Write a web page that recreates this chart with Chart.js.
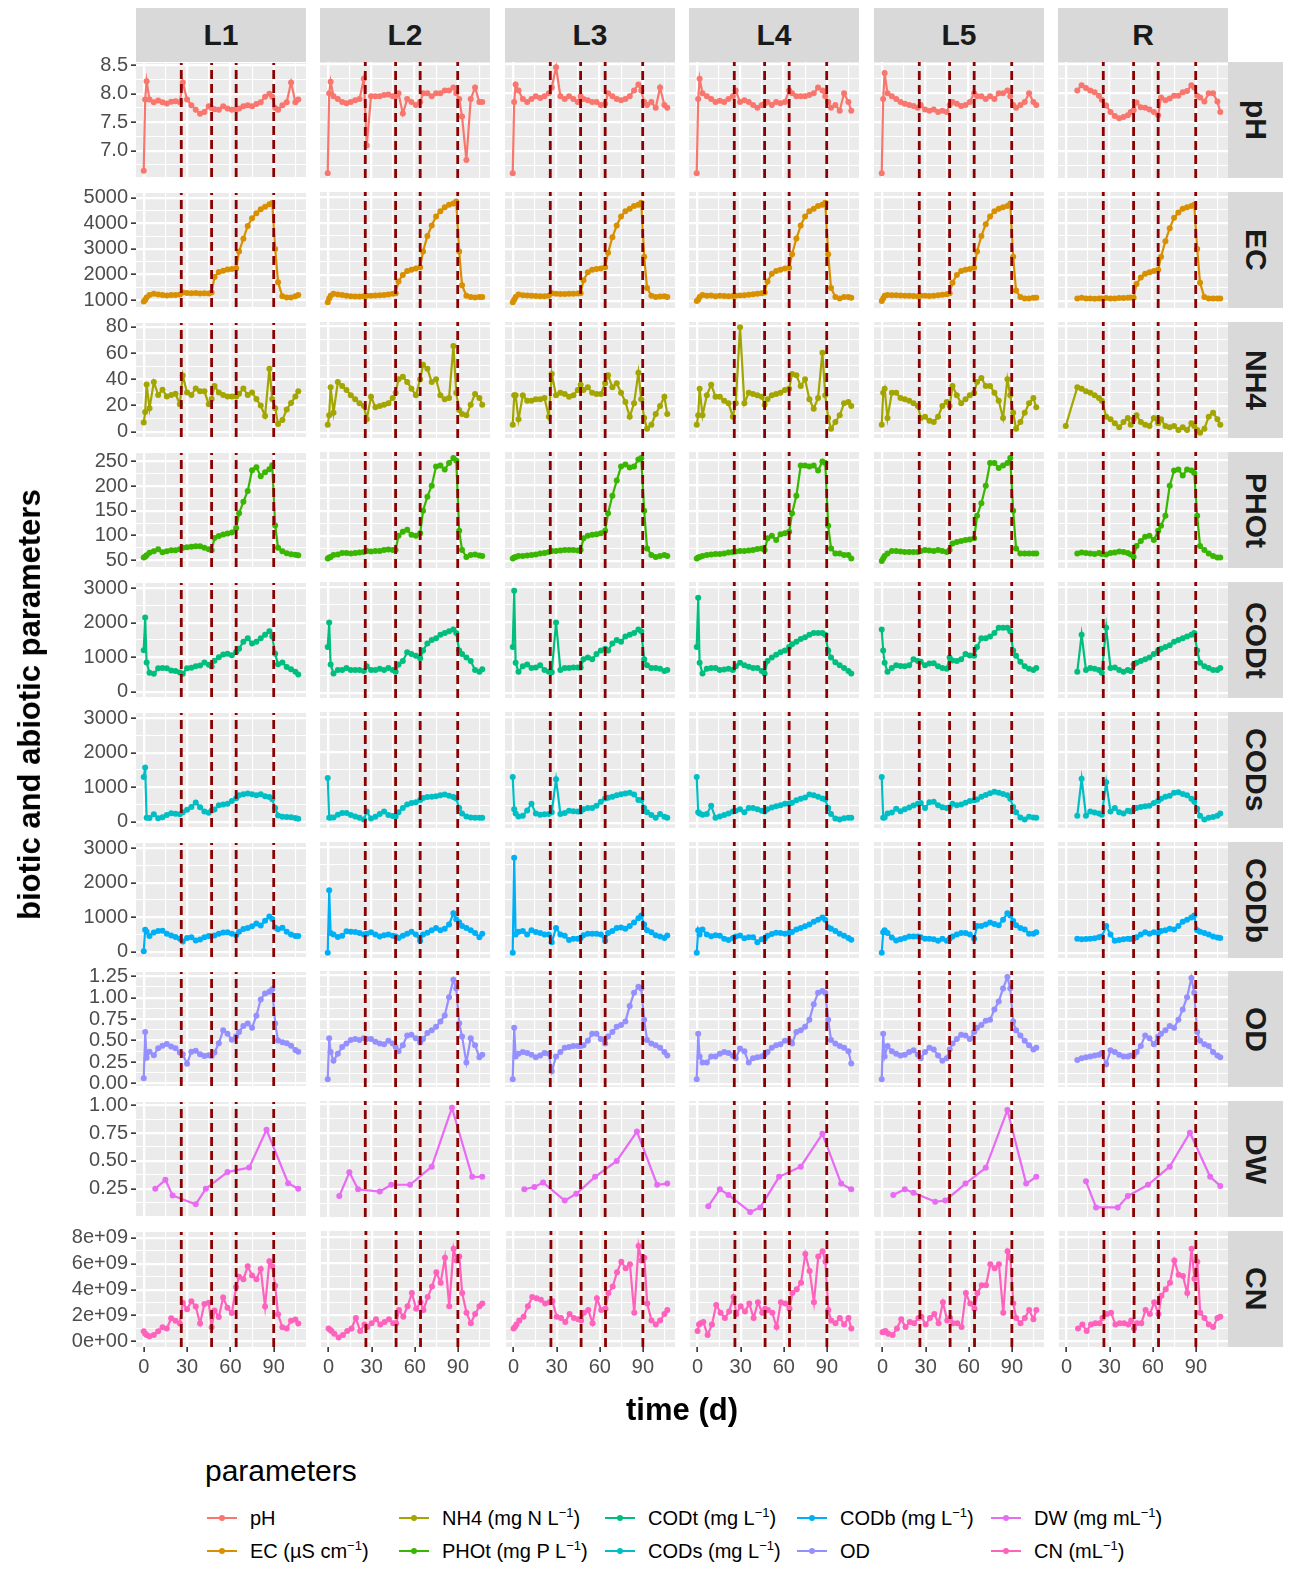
<!DOCTYPE html>
<html>
<head>
<meta charset="utf-8">
<title>biotic and abiotic parameters</title>
<script src="https://cdn.jsdelivr.net/npm/chart.js@4.4.1/dist/chart.umd.min.js"></script>
<style>
  body { margin: 0; width: 1294px; height: 1574px; position: relative; background: #fff; overflow: hidden;
         font-family: "Liberation Sans", Arial, sans-serif; }
  canvas { position: absolute; }
  .strip { position: absolute; background: #D9D9D9; color: #1A1A1A; font-weight: bold; font-size: 30px;
           display: flex; align-items: center; justify-content: center; }
  .strip.right span { writing-mode: vertical-rl; }
  .title { position: absolute; font-weight: bold; font-size: 31px; color: #000; white-space: nowrap; }
  .ytitle { writing-mode: vertical-rl; transform: rotate(180deg); }
  .ltitle { position: absolute; left: 205px; top: 1454px; font-size: 30px; color: #000; }
  .litem { position: absolute; height: 30px; font-size: 20px; color: #000; white-space: nowrap; line-height: 30px; }
  .litem sup { font-size: 13px; vertical-align: 8px; line-height: 0; }
  .key { position: absolute; top: 14px; width: 30px; height: 2px; }
  .dot { position: absolute; top: 12px; width: 6px; height: 6px; border-radius: 3px; }
</style>
</head>
<body>
<script>
// facets
const columns = ['L1', 'L2', 'L3', 'L4', 'L5', 'R'];
const params = ['pH', 'EC', 'NH4', 'PHOt', 'CODt', 'CODs', 'CODb', 'OD', 'DW', 'CN'];
const colors = ['#F8766D', '#D89000', '#A3A500', '#39B600', '#00BF7D', '#00BFC4', '#00B0F6', '#9590FF', '#E76BF3', '#FF62BC'];
const eventDays = [26, 47, 64, 90];
const xTicks = [0, 30, 60, 90];

// sampling days (L1..L5 share one grid, R starts later)
const days = [0, 1, 2, 4, 7, 10, 13, 16, 19, 22, 25, 27, 30, 33, 36, 39, 42, 45, 47, 49, 52, 55, 58, 61, 64,
              66, 69, 72, 75, 78, 81, 84, 87, 89, 91, 93, 96, 99, 102, 105, 107];
const daysR = [0, 8, 11, 14, 17, 20, 23, 25, 28, 31, 34, 37, 40, 43, 45, 47, 49, 52, 55, 58, 61, 64, 66, 69,
               72, 75, 78, 81, 84, 87, 89, 91, 93, 96, 99, 102, 105, 107];

// one array per column: L1, L2, L3, L4, L5, R
const pH = [
  [6.65,7.9,8.22,7.9,7.85, 7.88,7.85,7.83,7.86,7.87, 7.85,8.2,7.9,7.8,7.72, 7.65,7.68,7.78,7.75,7.73, 7.72,7.78,7.74,7.72,7.73, 7.74,7.78,7.8,7.78,7.82, 7.85,7.95,8.0,7.95,7.75, 7.72,7.8,7.85,8.2,7.85, 7.9],
  [6.62,8.0,8.2,7.95,7.9, 7.85,7.83,7.85,7.88,7.9, 8.25,7.1,7.95,7.95,7.95, 7.97,7.98,7.95,7.95,8.0, 7.65,7.9,7.85,7.8,7.85, 8.0,8.0,7.95,8.0,8.0, 8.05,8.05,8.1,8.0,7.9, 7.6,6.85,7.9,8.1,7.85, 7.85],
  [6.62,7.85,8.15,8.05,7.9, 7.85,7.9,7.95,7.92,7.95, 8.0,8.1,8.45,7.95,7.9, 7.95,7.9,7.85,7.95,7.9, 7.88,7.85,7.85,7.8,7.82, 8.0,7.95,7.9,7.88,7.9, 7.95,8.05,8.15,8.05,7.85, 7.8,7.85,7.75,8.1,7.8, 7.75],
  [6.62,7.9,8.25,8.0,7.95, 7.9,7.85,7.87,7.85,7.9, 7.95,8.05,7.85,7.88,7.85, 7.8,7.75,7.8,7.82,7.85, 7.8,7.85,7.83,7.85,8.05, 8.0,7.95,7.95,7.95,7.97, 8.0,8.1,8.05,7.95,7.85, 7.75,7.8,7.7,8.0,7.85, 7.7],
  [6.62,7.9,8.35,8.0,7.95, 7.9,7.85,7.82,7.8,7.78, 7.75,7.8,7.72,7.7,7.72, 7.68,7.7,7.68,7.8,7.85, 7.82,7.78,7.8,7.85,8.0, 7.95,7.95,7.9,7.95,7.9, 8.0,8.0,8.05,7.95,7.8, 7.75,7.8,7.85,8.0,7.85, 7.8],
  [null,8.05,8.14,8.09,8.05, 8.02,7.96,7.89,7.79,7.68, 7.61,7.57,7.59,7.62,7.68, 7.71,7.84,7.76,7.75,7.72, 7.68,7.62,7.93,7.88,7.91, 7.96,7.96,8.02,8.04,8.14, 8.1,7.96,7.93,7.86,8.0, 8.0,7.86,7.68]
];
const EC = [
  [950,1000,1100,1200,1250, 1220,1200,1180,1200,1200, 1220,1300,1280,1270,1280, 1260,1270,1260,1300,1900, 2100,2150,2200,2220,2250, 2900,3400,3900,4200,4400, 4550,4650,4750,4800,3000, 1700,1150,1100,1100,1150, 1200],
  [950,1100,1200,1280,1250, 1230,1200,1180,1170,1170, 1180,1200,1200,1210,1220, 1230,1250,1280,1300,1750, 2000,2150,2200,2250,2300, 2900,3500,3900,4250,4450, 4600,4700,4750,4820,2900, 1600,1200,1150,1130,1150, 1150],
  [950,1050,1150,1250,1220, 1210,1200,1190,1180,1180, 1200,1300,1280,1270,1270, 1280,1280,1290,1300,1800, 2100,2200,2230,2250,2300, 2850,3450,3900,4250,4450, 4550,4650,4700,4780,2700, 1500,1200,1150,1170,1180, 1150],
  [1000,1050,1150,1230,1200, 1210,1180,1200,1190,1180, 1190,1200,1210,1220,1240, 1260,1280,1300,1330,1750, 2050,2150,2200,2250,2280, 2800,3400,3900,4250,4450, 4550,4650,4700,4780,2800, 1500,1150,1100,1150,1150, 1120],
  [1000,1100,1200,1230,1220, 1220,1210,1200,1200,1190, 1180,1200,1200,1190,1200, 1220,1240,1260,1300,1700, 2000,2150,2200,2230,2280, 2900,3500,3950,4250,4450, 4550,4600,4650,4750,2700, 1400,1150,1100,1100,1120, 1120],
  [null,1100,1120,1100,1100, 1090,1100,1100,1110,1100, 1100,1110,1110,1120,1130, 1120,1650,1900,2050,2100, 2150,2200,2700,3300,3800, 4200,4400,4550,4600,4650, 4700,3000,1700,1150,1100, 1100,1100,1100]
];
const NH4 = [
  [7,15,36,18,38, 28,32,27,28,29, 21,43,30,28,33, 31,31,21,25,35, 30,28,27,27,27, 29,33,28,30,25, 20,12,48,25,18, 6,9,17,22,27, 31],
  [6,13,34,15,38, 35,32,28,25,22, 20,10,27,19,20, 21,22,26,30,40, 42,38,33,28,40, 51,48,38,40,28, 25,26,65,30,17, 14,13,21,29,26, 21],
  [6,28,28,10,28, 24,24,25,25,26, 12,44,28,30,29, 27,28,32,36,32, 34,30,29,29,37, 43,34,37,30,23, 12,22,45,25,11, 3,6,14,20,27, 14],
  [6,13,33,13,28, 36,27,27,24,22, 12,22,79,22,30, 29,28,27,21,25, 28,29,30,32,33, 44,43,35,40,25, 18,26,60,28,11, 3,8,13,22,23, 20],
  [6,30,33,11,30, 30,26,25,24,22, 20,11,12,9,8, 12,20,23,20,35, 28,22,25,28,30, 38,41,35,35,30, 24,11,40,28,15, 3,8,15,22,26, 19],
  [5,34,33,31,30, 28,26,24,12,10, 7,4,8,11,6, 10,13,8,6,5, 11,7,10,5,4, 5,2,4,2,7, 5,2,0,3,12, 15,10,6]
];
const PHOt = [
  [55,57,60,65,68, 72,66,68,70,70, 72,75,76,77,78, 78,75,72,70,95, 99,102,104,106,115, 145,168,190,232,238, 220,228,234,242,120, 75,68,64,62,61, 60],
  [55,57,58,62,63, 66,66,65,66,67, 68,70,69,70,70, 72,73,72,72,100, 108,112,102,100,105, 150,178,200,238,240, 232,245,255,250,110, 72,58,62,63,61, 60],
  [55,57,58,60,60, 61,62,63,65,66, 68,70,70,71,72, 72,72,71,72,95, 100,102,103,105,110, 145,180,210,238,242, 236,238,252,255,150, 75,62,58,60,62, 60],
  [55,57,58,60,62, 63,64,64,65,67, 68,69,70,70,71, 72,74,75,72,95, 100,92,103,105,108, 145,180,240,240,238, 240,230,248,245,120, 75,65,65,62,62, 55],
  [50,55,60,65,70, 70,69,68,68,68, 68,70,72,71,70, 72,70,68,72,85, 88,90,92,93,95, 140,165,200,245,245, 235,240,245,255,150, 75,65,65,65,65, 65],
  [null,65,67,66,65, 64,66,64,63,66, 67,69,68,66,63, 58,80,90,98,100, 92,110,120,140,200, 230,232,220,232,230, 225,140,80,72,65, 60,57,57]
];
const CODt = [
  [1200,2150,850,550,520, 680,690,680,620,600, 560,520,680,700,740, 760,850,780,730,900, 1000,1080,1100,1060,1150, 1250,1450,1550,1400,1450, 1550,1650,1750,1600,1100, 800,850,720,650,580, 500],
  [1300,2000,800,550,650, 650,700,650,650,650, 620,750,650,650,680, 650,700,650,600,800, 900,1150,1100,1050,980, 1200,1400,1500,1550,1650, 1700,1750,1800,1700,1200, 1100,1000,900,650,600, 670],
  [1300,2900,850,600,750, 800,700,720,780,650, 600,580,2000,650,700, 700,720,720,720,950, 1000,950,1100,1200,1250, 1200,1400,1500,1450,1600, 1650,1700,1800,1750,950, 780,700,700,680,620, 650],
  [1300,2700,850,550,680, 700,700,650,660,680, 650,750,850,780,740, 700,700,620,550,900, 1000,1080,1150,1200,1300, 1380,1450,1530,1580,1650, 1700,1700,1700,1650,1200, 1000,870,780,700,620, 550],
  [1800,1200,850,600,700, 780,760,750,780,950, 900,880,780,830,840, 750,700,680,1000,920, 900,950,1100,1060,1050, 1300,1550,1550,1600,1700, 1850,1850,1850,1750,1200, 1050,880,750,680,650, 700],
  [null,600,1650,650,700, 680,650,570,1850,700, 720,650,600,650,620, 800,850,900,950,1000, 1100,1200,1250,1300,1350, 1450,1500,1550,1600,1650, 1700,1200,850,750,700, 650,650,700]
];
const CODs = [
  [1300,1570,120,110,220, 100,130,200,250,230, 220,280,350,430,560, 420,300,260,330,360, 480,500,520,600,680, 770,800,820,800,770, 800,740,720,650,400, 180,150,140,130,110, 90],
  [1270,140,150,150,230, 280,280,220,180,140, 90,320,120,170,250, 320,220,190,180,300, 420,520,560,580,650, 700,730,740,750,780, 800,770,730,690,420, 260,180,150,140,140, 140],
  [1300,380,260,180,200, 350,540,260,230,240, 250,300,1240,250,280, 340,330,320,320,380, 420,420,480,600,690, 710,740,780,810,830, 850,800,650,650,420, 300,220,140,250,170, 140],
  [1300,300,260,230,250, 480,140,180,220,260, 320,340,380,300,420, 420,380,340,320,380, 430,470,500,540,550, 570,640,680,720,800, 780,740,690,660,420, 250,120,90,130,140, 140],
  [1300,140,150,260,290, 400,330,380,430,490, 540,560,420,580,600, 500,440,420,430,540, 500,520,570,620,640, 660,740,790,840,880, 850,820,780,680,450, 300,150,90,170,150, 140],
  [null,200,1250,200,320, 290,260,230,1150,320, 420,300,260,340,320, 380,420,450,470,480, 560,620,680,740,770, 850,870,820,780,680, 600,400,200,90,140, 160,200,260]
];
const CODb = [
  [20,640,580,460,560, 600,610,520,470,430, 380,300,400,420,330, 360,420,460,460,470, 520,560,570,520,490, 580,660,690,740,820, 760,900,1020,950,700, 650,700,580,500,460, 460],
  [0,1780,560,520,450, 480,610,600,590,560, 520,540,580,520,460, 500,520,480,460,420, 480,540,600,520,340, 520,570,640,700,640, 680,800,1120,950,870, 760,700,640,560,440, 540],
  [0,2700,520,600,620, 520,640,590,560,520, 520,300,700,520,480, 360,400,400,420,500, 540,540,540,520,340, 560,620,700,720,680, 760,860,980,1060,800, 640,580,500,460,420, 490],
  [0,640,520,660,520, 470,500,480,400,360, 420,460,490,410,440, 440,300,380,400,480, 530,570,560,540,570, 590,660,700,750,800, 880,940,1000,940,720, 680,620,540,480,420, 370],
  [0,580,640,560,430, 350,380,420,460,460, 460,440,400,400,380, 340,400,340,400,460, 520,560,560,520,400, 760,760,800,860,820, 780,940,1120,1060,900, 780,700,660,540,540, 580],
  [null,400,380,390,400, 410,440,460,760,520, 340,360,380,400,390, 400,440,520,580,540, 580,560,620,640,680, 660,760,880,940,1000, 1060,640,600,560,520, 460,430,420]
];
const OD = [
  [0.06,0.6,0.3,0.37,0.33, 0.41,0.44,0.46,0.43,0.41, 0.36,0.34,0.23,0.37,0.38, 0.34,0.32,0.33,0.32,0.36, 0.47,0.62,0.58,0.51,0.55, 0.6,0.67,0.7,0.65,0.79, 0.98,1.05,1.07,1.1,0.7, 0.5,0.48,0.47,0.44,0.39, 0.37],
  [0.06,0.53,0.37,0.27,0.35, 0.43,0.47,0.51,0.52,0.51, 0.53,0.52,0.52,0.49,0.47, 0.46,0.5,0.47,0.43,0.38, 0.45,0.56,0.57,0.53,0.48, 0.52,0.59,0.62,0.66,0.72, 0.79,1.0,1.2,1.1,0.7, 0.55,0.25,0.53,0.45,0.31, 0.34],
  [0.06,0.65,0.32,0.35,0.37, 0.36,0.34,0.31,0.33,0.36, 0.35,0.15,0.32,0.37,0.42, 0.43,0.44,0.44,0.44,0.45, 0.5,0.58,0.58,0.52,0.47, 0.55,0.6,0.66,0.68,0.72, 0.9,1.05,1.12,1.1,0.74, 0.51,0.47,0.45,0.42,0.37, 0.33],
  [0.06,0.58,0.32,0.25,0.25, 0.32,0.32,0.35,0.37,0.36, 0.33,0.3,0.41,0.38,0.25, 0.3,0.31,0.32,0.34,0.37, 0.42,0.45,0.46,0.5,0.5, 0.47,0.6,0.62,0.66,0.74, 0.92,1.05,1.07,1.05,0.74, 0.51,0.47,0.44,0.42,0.38, 0.24],
  [0.06,0.58,0.32,0.44,0.38, 0.35,0.33,0.34,0.37,0.39, 0.34,0.3,0.37,0.42,0.4, 0.33,0.27,0.3,0.4,0.47, 0.52,0.57,0.56,0.52,0.6, 0.65,0.68,0.73,0.74,0.86, 0.95,1.1,1.23,1.1,0.72, 0.62,0.56,0.5,0.45,0.4, 0.42],
  [null,0.28,0.3,0.31,0.32, 0.33,0.34,0.36,0.23,0.39, 0.37,0.34,0.32,0.32,0.33, 0.33,0.37,0.44,0.56,0.53, 0.46,0.55,0.58,0.62,0.67, 0.65,0.74,0.86,1.0,1.22, 1.05,0.6,0.5,0.46,0.44, 0.37,0.33,0.31]
];
// dry weight was sampled less often, with its own days
const dwDays = [
  [8, 15, 20, 36, 43, 58, 73, 85, 100, 107],
  [8, 15, 21, 36, 44, 57, 72, 86, 100, 107],
  [8, 15, 21, 36, 44, 57, 72, 86, 100, 107],
  [8, 16, 22, 37, 44, 57, 72, 87, 100, 107],
  [8, 16, 22, 37, 44, 58, 72, 87, 100, 107],
  [14, 21, 36, 43, 57, 72, 86, 100, 107]
];
const DW = [
  [0.25,0.33,0.19,0.11,0.25,0.40,0.44,0.78,0.30,0.25],
  [0.19,0.40,0.25,0.23,0.29,0.29,0.45,0.97,0.36,0.36],
  [0.25,0.27,0.31,0.15,0.21,0.36,0.50,0.76,0.29,0.30],
  [0.10,0.25,0.20,0.05,0.09,0.36,0.45,0.74,0.30,0.25],
  [0.20,0.25,0.22,0.14,0.15,0.30,0.44,0.95,0.30,0.36],
  [0.32,0.09,0.09,0.19,0.29,0.45,0.75,0.36,0.28]
];
// cell number, in 1e9 per mL
const CN = [
  [0.8,0.6,0.5,0.4,0.5, 0.8,1.1,1.0,1.8,1.6, 1.4,3.0,2.5,3.1,2.7, 1.4,2.9,3.0,1.1,2.4, 1.9,3.4,2.6,2.2,4.2, 5.0,4.8,5.8,5.1,4.8, 5.6,2.7,6.2,5.8,4.3, 2.1,1.1,1.0,1.6,1.7, 1.4],
  [1.0,0.9,0.8,0.6,0.3, 0.5,0.8,1.0,1.8,0.8, 1.3,1.1,1.4,1.7,1.3, 1.5,1.7,1.4,1.4,2.4, 1.9,2.7,3.7,2.5,3.0, 2.4,3.4,4.2,5.3,4.5, 6.4,2.7,7.1,6.2,6.5, 3.7,2.2,1.4,2.1,2.7, 2.9],
  [1.0,1.1,1.3,1.6,1.9, 2.7,3.4,3.3,3.2,2.9, 3.0,3.1,1.9,1.8,1.5, 2.1,1.8,1.7,1.6,2.2, 2.4,1.4,3.3,2.4,2.5, 3.7,4.2,5.3,6.1,5.6, 5.9,2.2,7.3,6.2,6.4, 2.9,1.6,1.3,1.6,2.1, 2.4],
  [0.8,1.3,1.4,1.5,0.5, 1.3,2.8,2.2,1.8,2.3, 3.4,2.1,2.7,2.3,2.9, 1.8,3.0,2.2,2.5,2.4, 2.2,1.1,3.0,2.9,2.5, 3.7,4.0,4.5,6.7,5.4, 3.0,6.5,6.9,6.1,2.4, 1.6,1.4,1.8,1.3,1.8, 1.0],
  [0.7,0.75,0.8,0.6,0.5, 1.0,1.7,1.1,1.5,1.4, 1.8,1.9,1.3,1.8,2.1, 1.4,3.0,1.6,1.8,1.4, 1.4,1.1,3.7,2.9,2.5, 3.7,4.3,4.3,5.9,5.6, 5.9,2.2,6.9,6.4,2.9, 1.8,1.4,1.8,2.4,1.7, 2.4],
  [null,1.0,1.3,0.8,1.3, 1.4,1.4,1.8,2.1,2.2, 1.3,1.4,1.4,1.3,1.6, 1.0,1.4,1.4,2.4,2.1, 3.0,2.1,3.5,4.0,4.5, 6.2,5.1,5.0,3.7,7.1, 4.8,6.1,2.2,1.8,1.3, 1.1,1.8,1.9]
];

// y tick labels per row
const pHTicks = [7.0, 7.5, 8.0, 8.5];
const ECTicks = [1000, 2000, 3000, 4000, 5000];
const NH4Ticks = [0, 20, 40, 60, 80];
const PHOtTicks = [50, 100, 150, 200, 250];
const CODTicks = [0, 1000, 2000, 3000];
const ODTicks = [0, 0.25, 0.5, 0.75, 1.0, 1.25];
const DWTicks = [0.25, 0.5, 0.75, 1.0];
const CNTicks = [0, 2, 4, 6, 8];

const legendLabels = ['pH', 'EC (µS cm<sup>−1</sup>)', 'NH4 (mg N L<sup>−1</sup>)', 'PHOt (mg P L<sup>−1</sup>)',
  'CODt (mg L<sup>−1</sup>)', 'CODs (mg L<sup>−1</sup>)', 'CODb (mg L<sup>−1</sup>)', 'OD',
  'DW (mg mL<sup>−1</sup>)', 'CN (mL<sup>−1</sup>)'];

const seriesOf = {pH, EC, NH4, PHOt, CODt, CODs, CODb, OD, CN};

// layout (px)
const FONT = '"Liberation Sans", Arial, sans-serif';
const PANEL_W = 170, PANEL_H = 116;
const colLeft = [136, 320, 505, 689, 874, 1058];
const rowTop = [62, 192, 322, 452, 582, 712, 842, 971, 1101, 1231];
const Y_AXIS_W = 136, X_AXIS_H = 60, PAD = 14;
const X_MIN = -5.35, X_MAX = 112.35;

const rowAxes = [
  {min: 6.54, max: 8.54, ticks: pHTicks, fmt: v => v.toFixed(1)},
  {min: 730, max: 5190, ticks: ECTicks, fmt: v => String(v)},
  {min: -4, max: 83, ticks: NH4Ticks, fmt: v => String(v)},
  {min: 36, max: 267, ticks: PHOtTicks, fmt: v => String(v)},
  {min: -150, max: 3150, ticks: CODTicks, fmt: v => String(v)},
  {min: -150, max: 3150, ticks: CODTicks, fmt: v => String(v)},
  {min: -150, max: 3150, ticks: CODTicks, fmt: v => String(v)},
  {min: -0.03, max: 1.30, ticks: ODTicks, fmt: v => v.toFixed(2)},
  {min: 0.005, max: 1.03, ticks: DWTicks, fmt: v => v.toFixed(2)},
  {min: -0.42, max: 8.45, ticks: CNTicks, fmt: v => v === 0 ? '0e+00' : v + 'e+09'}
];

Chart.defaults.font.family = FONT;

// major breaks plus ggplot-style minor breaks halfway between them
function tickList(majors, min, max) {
  const step = majors[1] - majors[0];
  const ext = [majors[0] - step].concat(majors, [majors[majors.length - 1] + step]);
  const list = majors.filter(v => v >= min && v <= max).map(v => ({value: v, minor: false}));
  for (let i = 0; i < ext.length - 1; i++) {
    const m = (ext[i] + ext[i + 1]) / 2;
    if (m >= min && m <= max) list.push({value: m, minor: true});
  }
  return list.sort((a, b) => a.value - b.value);
}

const gridWidth = ctx => (ctx.tick && ctx.tick.minor ? 1.1 : 2.3);
const tickColor = ctx => (ctx.tick && ctx.tick.minor ? 'rgba(0,0,0,0)' : '#333333');

const panelBg = {
  id: 'panelBg',
  beforeDraw(chart) {
    const a = chart.chartArea, c = chart.ctx;
    c.save();
    c.fillStyle = '#EBEBEB';
    c.fillRect(a.left, a.top, a.right - a.left, a.bottom - a.top);
    c.restore();
  }
};

function makePanel(ri, ci) {
  const axis = rowAxes[ri];
  const showY = ci === 0, showX = ri === params.length - 1;
  const left = showY ? Y_AXIS_W : 0;
  const padTop = showY ? PAD : 0;
  const padBottom = showY && !showX ? PAD : 0;
  const bottom = showX ? X_AXIS_H : 0;
  const w = left + PANEL_W, h = padTop + PANEL_H + padBottom + bottom;

  const canvas = document.createElement('canvas');
  canvas.width = w;
  canvas.height = h;
  canvas.style.left = (colLeft[ci] - left) + 'px';
  canvas.style.top = (rowTop[ri] - padTop) + 'px';
  canvas.style.width = w + 'px';
  canvas.style.height = h + 'px';
  document.body.appendChild(canvas);

  const name = params[ri];
  const xs = name === 'DW' ? dwDays[ci] : (ci === 5 ? daysR : days);
  const ys = name === 'DW' ? DW[ci] : seriesOf[name][ci];
  const points = xs.map((d, i) => ({x: d, y: ys[i]}));

  const vlines = eventDays.map(d => ({
    data: [{x: d, y: axis.min}, {x: d, y: axis.max}],
    borderColor: '#8B0000', borderWidth: 2.8, borderDash: [9, 5],
    pointRadius: 0, order: 0
  }));

  new Chart(canvas, {
    type: 'line',
    data: {
      datasets: vlines.concat([{
        data: points,
        borderColor: colors[ri], backgroundColor: colors[ri],
        borderWidth: 2.2, pointRadius: 3, pointBorderWidth: 0,
        pointBackgroundColor: colors[ri], spanGaps: true, tension: 0, order: 1
      }])
    },
    options: {
      responsive: false,
      animation: false,
      events: [],
      layout: {autoPadding: false, padding: {top: padTop, bottom: padBottom, left: 0, right: 0}},
      plugins: {legend: {display: false}, tooltip: {enabled: false}},
      scales: {
        x: {
          type: 'linear', min: X_MIN, max: X_MAX, bounds: 'data',
          afterBuildTicks: s => { s.ticks = tickList(xTicks, X_MIN, X_MAX); },
          afterFit: s => { s.height = bottom; },
          border: {display: false},
          grid: {color: '#FFFFFF', lineWidth: gridWidth, drawTicks: showX, tickLength: 5, tickWidth: 1.6, tickColor: tickColor},
          ticks: {
            display: showX, autoSkip: false, maxRotation: 0, padding: 3, color: '#4D4D4D',
            font: {size: 20, family: FONT},
            callback: (v, i, t) => (t[i].minor ? '' : String(v))
          }
        },
        y: {
          type: 'linear', min: axis.min, max: axis.max, bounds: 'data',
          afterBuildTicks: s => { s.ticks = tickList(axis.ticks, axis.min, axis.max); },
          afterFit: s => { s.width = left; },
          border: {display: false},
          grid: {color: '#FFFFFF', lineWidth: gridWidth, drawTicks: showY, tickLength: 5, tickWidth: 1.6, tickColor: tickColor},
          ticks: {
            display: showY, autoSkip: false, padding: 3, color: '#4D4D4D',
            font: {size: 20, family: FONT},
            callback: (v, i, t) => (t[i].minor ? '' : axis.fmt(v))
          }
        }
      }
    },
    plugins: [panelBg]
  });
}

function addDiv(cls, css, html) {
  const d = document.createElement('div');
  d.className = cls;
  d.style.cssText = css;
  d.innerHTML = html;
  document.body.appendChild(d);
  return d;
}

// strips
columns.forEach((c, ci) => {
  addDiv('strip', `left:${colLeft[ci]}px;top:8px;width:${PANEL_W}px;height:54px;`, c);
});
params.forEach((p, ri) => {
  addDiv('strip right', `left:1228px;top:${rowTop[ri]}px;width:55px;height:${PANEL_H}px;`, `<span>${p}</span>`);
});

// panels
for (let ri = 0; ri < params.length; ri++) {
  for (let ci = 0; ci < columns.length; ci++) {
    makePanel(ri, ci);
  }
}

// axis titles
addDiv('title', 'left:0;width:1364px;top:1392px;text-align:center;', 'time (d)');
addDiv('title ytitle', 'left:12px;top:62px;height:1285px;text-align:center;', 'biotic and abiotic parameters');

// legend
addDiv('ltitle', '', 'parameters');
const keyCenters = [222, 414, 620, 812, 1006];
const keyRows = [1503, 1536];
legendLabels.forEach((lab, i) => {
  const col = Math.floor(i / 2), row = i % 2;
  const item = addDiv('litem', `left:${keyCenters[col] - 15}px;top:${keyRows[row]}px;padding-left:43px;`, lab);
  const key = document.createElement('div');
  key.className = 'key';
  key.style.cssText = `left:0;background:${colors[i]};`;
  const dot = document.createElement('div');
  dot.className = 'dot';
  dot.style.cssText = `left:12px;background:${colors[i]};`;
  item.appendChild(key);
  item.appendChild(dot);
});
</script>
</body>
</html>
